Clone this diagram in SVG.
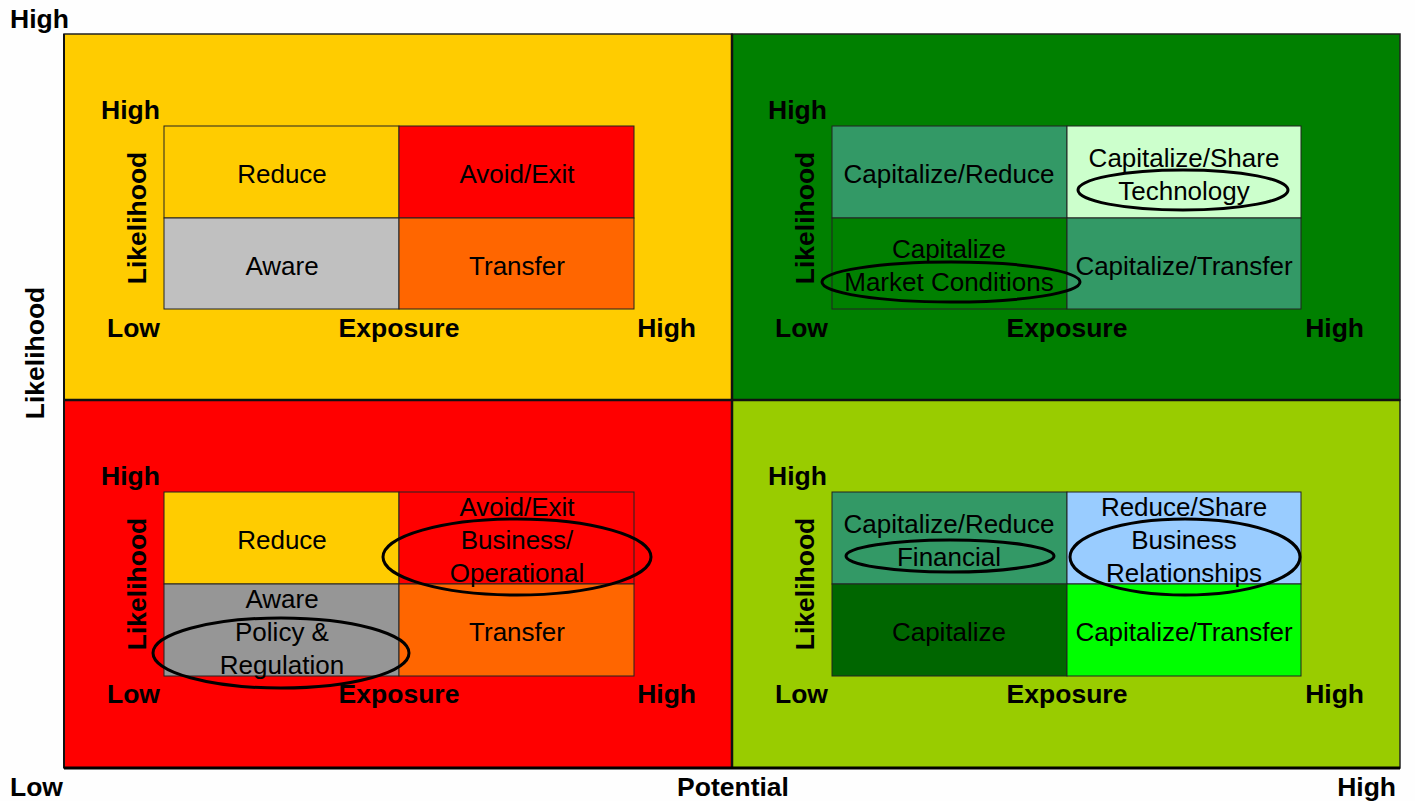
<svg xmlns="http://www.w3.org/2000/svg" width="1415" height="801" viewBox="0 0 1415 801">
<style>
.q{stroke:#222;stroke-width:1.5}
.c{stroke:#222;stroke-width:1}
.t{font-family:"Liberation Sans",Arial,sans-serif;font-size:26px;fill:#000;text-anchor:middle}
.b{font-family:"Liberation Sans",Arial,sans-serif;font-size:26.5px;font-weight:bold;fill:#000}
.e{fill:none;stroke:#000;stroke-width:3}
</style>
<rect width="1415" height="801" fill="#fefefe"/>
<g id="quadrants">
<rect class="q" x="64" y="34" width="668" height="366" fill="#FFCC00"/>
<rect class="q" x="732" y="34" width="668" height="366" fill="#008000"/>
<rect class="q" x="64" y="400" width="668" height="368" fill="#FF0000"/>
<rect class="q" x="732" y="400" width="668" height="368" fill="#99CC00"/>
<line x1="732" y1="34" x2="732" y2="768" stroke="#111" stroke-width="2.5"/>
<line x1="64" y1="400" x2="1400" y2="400" stroke="#111" stroke-width="2.5"/>
</g>
<g id="axes">
<line x1="64" y1="34" x2="64" y2="768" stroke="#111" stroke-width="2"/>
<line x1="64" y1="768" x2="1400" y2="768" stroke="#000" stroke-width="3"/>
<text class="b" x="10" y="28">High</text>
<text class="b" transform="translate(44,353) rotate(-90)" text-anchor="middle">Likelihood</text>
<text class="b" x="10" y="796">Low</text>
<text class="b" x="733" y="796" text-anchor="middle">Potential</text>
<text class="b" x="1396" y="796" text-anchor="end">High</text>
</g>
<g id="matrix-tl">
<rect class="c" x="164" y="126" width="235" height="92" fill="#FFCC00"/>
<rect class="c" x="399" y="126" width="235" height="92" fill="#FF0000"/>
<rect class="c" x="164" y="218" width="235" height="91" fill="#C0C0C0"/>
<rect class="c" x="399" y="218" width="235" height="91" fill="#FF6600"/>
<text class="t" x="282" y="183">Reduce</text>
<text class="t" x="517" y="183">Avoid/Exit</text>
<text class="t" x="282" y="275">Aware</text>
<text class="t" x="517" y="275">Transfer</text>
<text class="b" x="101" y="119">High</text>
<text class="b" transform="translate(146,218) rotate(-90)" text-anchor="middle">Likelihood</text>
<text class="b" x="107" y="337">Low</text>
<text class="b" x="399" y="337" text-anchor="middle">Exposure</text>
<text class="b" x="696" y="337" text-anchor="end">High</text>
</g>
<g id="matrix-tr">
<rect class="c" x="832" y="126" width="235" height="92" fill="#339966"/>
<rect class="c" x="1067" y="126" width="234" height="92" fill="#CCFFCC"/>
<rect class="c" x="832" y="218" width="235" height="91" fill="#008000"/>
<rect class="c" x="1067" y="218" width="234" height="91" fill="#339966"/>
<text class="t" x="949" y="183">Capitalize/Reduce</text>
<text class="t" x="1184" y="167">Capitalize/Share</text>
<text class="t" x="1184" y="200">Technology</text>
<text class="t" x="949" y="258">Capitalize</text>
<text class="t" x="949" y="291">Market Conditions</text>
<text class="t" x="1184" y="275">Capitalize/Transfer</text>
<ellipse class="e" cx="1183" cy="190" rx="105" ry="20"/>
<ellipse class="e" cx="951" cy="282" rx="129" ry="20"/>
<text class="b" x="768" y="119">High</text>
<text class="b" transform="translate(814,218) rotate(-90)" text-anchor="middle">Likelihood</text>
<text class="b" x="775" y="337">Low</text>
<text class="b" x="1067" y="337" text-anchor="middle">Exposure</text>
<text class="b" x="1364" y="337" text-anchor="end">High</text>
</g>
<g id="matrix-bl">
<rect class="c" x="164" y="492" width="235" height="92" fill="#FFCC00"/>
<rect class="c" x="399" y="492" width="235" height="92" fill="#FF0000"/>
<rect class="c" x="164" y="584" width="235" height="92" fill="#969696"/>
<rect class="c" x="399" y="584" width="235" height="92" fill="#FF6600"/>
<text class="t" x="282" y="549">Reduce</text>
<text class="t" x="517" y="516">Avoid/Exit</text>
<text class="t" x="517" y="549">Business/</text>
<text class="t" x="517" y="582">Operational</text>
<text class="t" x="282" y="608">Aware</text>
<text class="t" x="282" y="641">Policy &amp;</text>
<text class="t" x="282" y="674">Regulation</text>
<text class="t" x="517" y="641">Transfer</text>
<ellipse class="e" cx="517" cy="557" rx="134" ry="38"/>
<ellipse class="e" cx="281" cy="653" rx="128" ry="35"/>
<text class="b" x="101" y="485">High</text>
<text class="b" transform="translate(146,584) rotate(-90)" text-anchor="middle">Likelihood</text>
<text class="b" x="107" y="703">Low</text>
<text class="b" x="399" y="703" text-anchor="middle">Exposure</text>
<text class="b" x="696" y="703" text-anchor="end">High</text>
</g>
<g id="matrix-br">
<rect class="c" x="832" y="492" width="235" height="92" fill="#339966"/>
<rect class="c" x="1067" y="492" width="234" height="92" fill="#99CCFF"/>
<rect class="c" x="832" y="584" width="235" height="92" fill="#006600"/>
<rect class="c" x="1067" y="584" width="234" height="92" fill="#00FF00"/>
<text class="t" x="949" y="533">Capitalize/Reduce</text>
<text class="t" x="949" y="566">Financial</text>
<text class="t" x="1184" y="516">Reduce/Share</text>
<text class="t" x="1184" y="549">Business</text>
<text class="t" x="1184" y="582">Relationships</text>
<text class="t" x="949" y="641">Capitalize</text>
<text class="t" x="1184" y="641">Capitalize/Transfer</text>
<ellipse class="e" cx="950" cy="556" rx="104" ry="16"/>
<ellipse class="e" cx="1185" cy="557" rx="115" ry="38"/>
<text class="b" x="768" y="485">High</text>
<text class="b" transform="translate(814,584) rotate(-90)" text-anchor="middle">Likelihood</text>
<text class="b" x="775" y="703">Low</text>
<text class="b" x="1067" y="703" text-anchor="middle">Exposure</text>
<text class="b" x="1364" y="703" text-anchor="end">High</text>
</g>
</svg>
